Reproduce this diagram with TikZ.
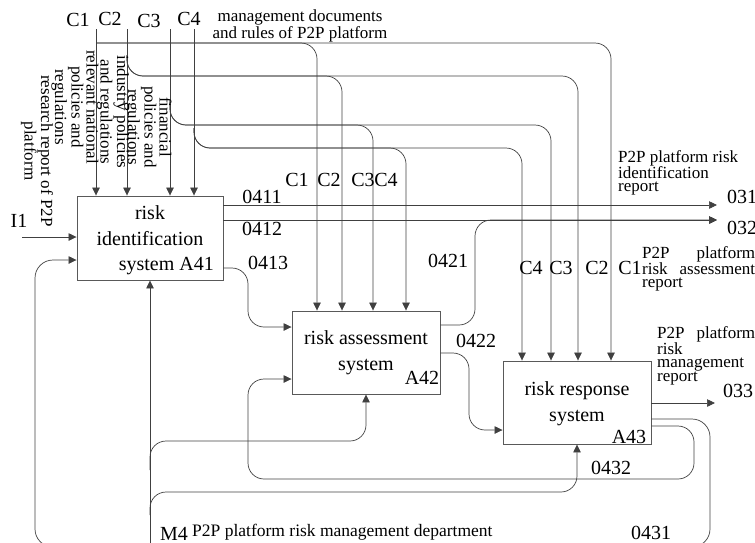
\documentclass[tikz,border=0pt]{standalone}
\usepackage{fontspec}
\setmainfont{Liberation Serif}
\usetikzlibrary{arrows.meta}
\tikzset{>={Triangle[length=8pt,width=7.5pt]}, % filled arrow heads
x=1pt, y=-1pt, % coordinates counted from the top left corner
box/.style={draw=black!65, line width=0.9pt, inner sep=0pt},
flow/.style={draw=black!75, line width=0.7pt, rounded corners=16pt},
big/.style={font=\fontsize{20}{26}\selectfont, inner sep=0pt},
small/.style={font=\fontsize{17}{13}\selectfont, inner sep=0pt, align=left},
side/.style={font=\fontsize{17}{15}\selectfont, inner sep=0pt, align=center, rotate=-90},
}

\begin{document}
\begin{tikzpicture}
  \useasboundingbox (0,0) rectangle (755,542);
  \clip (0,0) rectangle (755,542);

  % activity boxes
  \node[box, minimum width=146pt, minimum height=84pt] (a41) at (150,238) {};
  \node[box, minimum width=148pt, minimum height=83pt] (a42) at (366,352.5) {};
  \node[box, minimum width=148pt, minimum height=83pt] (a43) at (577,402.5) {};

  \node[big, align=center] (t41) at (150,226) {risk\\identification};
  \node[big, anchor=east] (n41) at (214,266) {system A41};
  \node[big, align=center] (t42) at (366,353) {risk assessment\\system};
  \node[big] (n42) at (422,378) {A42};
  \node[big, align=center] (t43) at (577,403.5) {risk response\\system};
  \node[big] (n43) at (629,437) {A43};

  % free ends
  \coordinate (c1) at (96,29);
  \coordinate (c2) at (127,29);
  \coordinate (c3) at (170,29);
  \coordinate (c4) at (194,29);
  \coordinate (j1) at (96,43);
  \coordinate (j2) at (127,55);
  \coordinate (j3) at (170,100);
  \coordinate (j4) at (194,128);
  \coordinate (i1) at (22,237);
  \coordinate (m4) at (150,560);
  \coordinate (j5) at (150,470);
  \coordinate (j6) at (150,515);
  \coordinate (o31) at (717,205);
  \coordinate (o32) at (717,220);
  \coordinate (o33) at (715,403);

  % controls
  \draw[flow,->] (c1) -- (c1 |- a41.north);
  \draw[flow,->] (c2) -- (c2 |- a41.north);
  \draw[flow,->] (c3) -- (c3 |- a41.north);
  \draw[flow,->] (c4) -- (c4 |- a41.north);
  \draw[flow,->] (j1) -| (317,0 |- a42.north);
  \draw[flow,->] (j1) -| (611,0 |- a43.north);
  \draw[flow,->] (j2) |- (342,76) -- (342,0 |- a42.north);
  \draw[flow,->] (j2) |- (578,76) -- (578,0 |- a43.north);
  \draw[flow,->] (j3) |- (373,125) -- (373,0 |- a42.north);
  \draw[flow,->] (j3) |- (551,125) -- (551,0 |- a43.north);
  \draw[flow,->] (j4) |- (406,148) -- (406,0 |- a42.north);
  \draw[flow,->] (j4) |- (522,148) -- (522,0 |- a43.north);

  % inputs and outputs
  \draw[flow,->] (i1) -- (a41.west |- i1);
  \draw[flow,->] (a41.east |- o31) -- (o31);
  \draw[flow,->] (a41.east |- o32) -- (o32);
  \draw[flow,->] (a41.east |- 0,268) -| (248,327) -- (a42.west |- 0,327);
  \draw[flow,->] (a42.east |- 0,325) -| (475,220) -- (o32);
  \draw[flow,->] (a42.east |- 0,353) -| (469,430) -- (a43.west |- 0,430);
  \draw[flow,->] (a43.east |- o33) -- (o33);
  \draw[flow,->] (a43.east |- 0,426) -| (694,479) -| (248,379) -- (a42.west |- 0,379);
  \draw[flow,->, rounded corners=18pt] (a43.east |- 0,419) -| (710,547) -| (35,260) -- (a41.west |- 0,260);

  % mechanism
  \draw[flow,->] (m4) -- (m4 |- a41.south);
  \draw[flow,->] (j5) |- (366,441) -- (a42.south);
  \draw[flow,->] (j6) |- (577,492) -- (a43.south);

  % labels
  \node[big] at (78,20) {C1};
  \node[big] at (110,19) {C2};
  \node[big] at (149,21) {C3};
  \node[big] at (189,19) {C4};
  \node[small, align=center] at (300,26) {management documents\\and rules of P2P platform};
  \node[side] at (75,107) {relevant national\\policies and\\regulations};
  \node[side] at (113,112) {industry policies\\and regulations};
  \node[side] at (148,127) {financial\\policies and\\regulations};
  \node[side] at (37,151) {research report of P2P\\platform};

  \node[big] at (297,180) {C1};
  \node[big] at (329,180) {C2};
  \node[big] at (363,180) {C3};
  \node[big] at (386,180) {C4};
  \node[big] at (531,268) {C4};
  \node[big] at (561,268) {C3};
  \node[big] at (597,268) {C2};
  \node[big] at (630,268) {C1};

  \node[big] at (19,221) {I1};
  \node[big] at (262,197) {0411};
  \node[big] at (262,229) {0412};
  \node[big] at (268,263) {0413};
  \node[big] at (448,261) {0421};
  \node[big] at (476,341) {0422};
  \node[big] at (611,468) {0432};
  \node[big] at (651,533) {0431};
  \node[big, anchor=west] at (727,197) {031};
  \node[big, anchor=west] at (727,228) {032};
  \node[big, anchor=west] at (723,391) {033};

  \node[small, anchor=north west] at (618,150) {P2P platform risk\\identification\\report};
  \node[small, anchor=north west, text width=113pt] at (642,246) {P2P\hfill platform\\risk\hfill assessment\\report};
  \node[small, anchor=north west, text width=98pt] at (657,326) {P2P\hfill platform\\risk\\management\\report};

  \node[big] at (174,534) {M4};
  \node[font=\fontsize{17.5}{20}\selectfont, inner sep=0pt, anchor=west] at (192,532) {P2P platform risk management department};
\end{tikzpicture}
\end{document}
